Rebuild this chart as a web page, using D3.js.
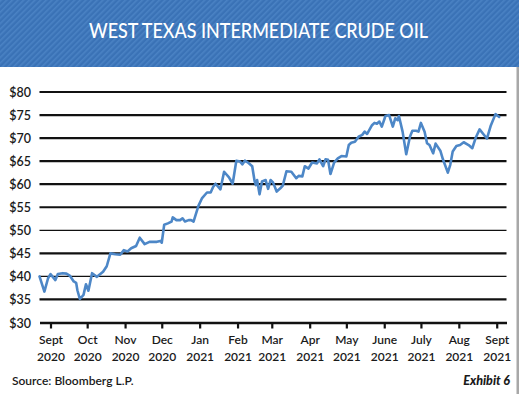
<!DOCTYPE html>
<html><head><meta charset="utf-8">
<script src="https://cdn.jsdelivr.net/npm/d3@7"></script>
<style>
html,body{margin:0;padding:0;background:#fff;}
svg{display:block;}
</style></head>
<body>
<svg id="chart" width="519" height="394"></svg>
<script>
const title = "WEST TEXAS INTERMEDIATE CRUDE OIL";
const sourceText = "Source: Bloomberg L.P.";
const exhibitText = "Exhibit 6";

const dates = [
"2020-08-23","2020-08-27","2020-08-30","2020-09-01","2020-09-05","2020-09-07","2020-09-11","2020-09-14","2020-09-17","2020-09-20",
"2020-09-22","2020-09-23","2020-09-25","2020-09-28","2020-09-30","2020-10-02","2020-10-05","2020-10-09","2020-10-14","2020-10-17",
"2020-10-20","2020-10-24","2020-10-28","2020-10-31","2020-11-03","2020-11-06","2020-11-10","2020-11-13","2020-11-17","2020-11-21",
"2020-11-27","2020-11-30","2020-12-01","2020-12-03","2020-12-06","2020-12-09","2020-12-10","2020-12-13","2020-12-16","2020-12-18",
"2020-12-20","2020-12-23","2020-12-25","2020-12-27","2020-12-31","2021-01-03","2021-01-07","2021-01-10","2021-01-12","2021-01-14",
"2021-01-18","2021-01-21","2021-01-25","2021-01-28","2021-01-31","2021-02-03","2021-02-05","2021-02-07","2021-02-10","2021-02-13",
"2021-02-15","2021-02-16","2021-02-17","2021-02-19","2021-02-21","2021-02-24","2021-02-26","2021-02-28","2021-03-02","2021-03-05",
"2021-03-08","2021-03-10","2021-03-13","2021-03-17","2021-03-21","2021-03-23","2021-03-26","2021-03-28","2021-03-31","2021-04-03",
"2021-04-07","2021-04-09","2021-04-12","2021-04-14","2021-04-16","2021-04-18","2021-04-21","2021-04-24","2021-04-27","2021-05-01",
"2021-05-03","2021-05-05","2021-05-08","2021-05-11","2021-05-14","2021-05-16","2021-05-18","2021-05-22","2021-05-24","2021-05-26",
"2021-05-28","2021-05-30","2021-06-02","2021-06-05","2021-06-08","2021-06-10","2021-06-12","2021-06-13","2021-06-16","2021-06-19",
"2021-06-22","2021-06-24","2021-06-27","2021-06-29","2021-07-01","2021-07-04","2021-07-06","2021-07-08","2021-07-11","2021-07-13",
"2021-07-17","2021-07-19","2021-07-23","2021-07-25","2021-07-27","2021-07-30","2021-08-02","2021-08-05","2021-08-09","2021-08-12",
"2021-08-15","2021-08-18","2021-08-21","2021-08-24","2021-08-27","2021-08-31","2021-09-02","2021-09-03"
];
const prices = [
40.0,36.7,39.6,40.5,39.2,40.5,40.7,40.6,40.1,38.9,
38.6,37.0,35.1,36.0,38.3,36.9,40.7,39.9,41.0,42.2,
45.0,44.8,44.7,45.7,45.4,46.1,46.6,48.4,47.0,47.5,
47.5,47.7,47.3,51.2,51.5,51.9,52.8,52.2,52.2,52.6,
51.9,52.2,52.2,51.9,55.3,57.0,58.2,58.2,59.4,60.1,
58.9,62.7,61.5,60.1,65.1,64.9,64.3,65.1,64.6,63.9,
60.6,59.8,60.9,57.8,60.6,60.9,59.0,60.9,60.4,58.4,
59.1,59.7,62.8,62.7,61.3,61.8,61.7,63.9,63.4,64.7,
64.5,65.4,63.9,65.4,65.3,62.2,64.7,65.6,66.1,66.0,
68.5,69.0,69.2,70.3,70.7,71.4,70.9,72.8,73.3,73.1,
73.6,72.5,74.8,75.0,72.5,74.3,73.9,74.8,71.4,66.5,
70.3,71.6,71.6,71.4,73.3,71.4,68.9,68.5,66.7,68.8,
67.2,65.4,62.5,64.2,67.1,68.3,68.5,69.1,68.5,67.8,
70.2,71.9,70.9,69.9,72.6,75.2,74.8,74.6
];

const yTicks = [30,35,40,45,50,55,60,65,70,75,80];
const monthStarts = ["2020-09-01","2020-10-01","2020-11-01","2020-12-01","2021-01-01","2021-02-01","2021-03-01","2021-04-01","2021-05-01","2021-06-01","2021-07-01","2021-08-01","2021-09-01"];
const monthNames = ["Sept","Oct","Nov","Dec","Jan","Feb","Mar","Apr","May","June","July","Aug","Sept"];
const monthYears = ["2020","2020","2020","2020","2021","2021","2021","2021","2021","2021","2021","2021","2021"];
const xDomain = ["2020-08-23","2021-09-09"];

const parse = d3.timeParse("%Y-%m-%d");
const data = dates.map((d,i)=>({date:parse(d), value:prices[i]}));

const svg = d3.select("#chart");
const FONT = "Lato, 'Open Sans', sans-serif";

// header band with diagonal stripes
const defs = svg.append("defs");
const pat = defs.append("pattern").attr("id","stripes").attr("patternUnits","userSpaceOnUse")
  .attr("width",4).attr("height",4).attr("patternTransform","rotate(45)");
pat.append("rect").attr("width",4).attr("height",4).attr("fill","#3a72b6");
pat.append("rect").attr("width",1.6).attr("height",4).attr("fill","#4a82c4");
svg.append("rect").attr("x",0).attr("y",0).attr("width",519).attr("height",67).attr("fill","url(#stripes)");
svg.append("text").attr("x",258.5).attr("y",38).attr("text-anchor","middle")
  .attr("fill","#fff").attr("font-family",FONT).attr("font-size",22).attr("font-weight",500)
  .attr("textLength",339).attr("lengthAdjust","spacingAndGlyphs").text(title);

// right border
svg.append("rect").attr("x",516.5).attr("y",67).attr("width",2.5).attr("height",327).attr("fill","#a8a8a8");

const x = d3.scaleTime().domain(xDomain.map(parse)).range([39.5,506.5]);
const y = d3.scaleLinear().domain([30,80]).range([322.5,92]);

// gridlines
const thin = new Set([40,50]);
svg.append("g").selectAll("line").data(yTicks.filter(v=>v>30)).join("line")
  .attr("x1",39.5).attr("x2",506.5).attr("y1",d=>y(d)).attr("y2",d=>y(d))
  .attr("stroke","#111").attr("stroke-width",d=>thin.has(d)?1.2:2.2);

// y labels
const yAxis = d3.axisLeft(y).tickValues(yTicks).tickSize(0).tickPadding(0).tickFormat(d=>"$"+d);
const gy = svg.append("g").attr("transform","translate(31,0)").call(yAxis);
gy.select(".domain").remove();
gy.selectAll("text").attr("font-family",FONT).attr("font-size",12.5).attr("font-weight",600).attr("fill","#1a1a1a").attr("dy","0.36em");

// x axis
const xAxis = d3.axisBottom(x).tickValues(monthStarts.map(parse)).tickSize(6).tickSizeOuter(0).tickFormat(()=>"");
const gx = svg.append("g").attr("transform","translate(0,322.5)").call(xAxis);
gx.select(".domain").attr("stroke","#111").attr("stroke-width",2.5);
gx.selectAll(".tick line").attr("stroke","#111").attr("stroke-width",2.2);
gx.selectAll(".tick text").remove();
gx.selectAll(".tick").each(function(d,i){
  const t = d3.select(this).append("text").attr("fill","#1a1a1a").attr("font-family",FONT)
    .attr("font-size",12).attr("font-weight",600).attr("text-anchor","middle");
  t.append("tspan").attr("x",0).attr("y",21.5).text(monthNames[i]);
  t.append("tspan").attr("x",0).attr("y",38.5).text(monthYears[i]);
});

// price line
const line = d3.line().x(d=>x(d.date)).y(d=>y(d.value)).curve(d3.curveLinear);
svg.append("path").datum(data).attr("d",line).attr("fill","none")
  .attr("stroke","#4d87c7").attr("stroke-width",2.6).attr("stroke-linejoin","round").attr("stroke-linecap","round");

// footer
svg.append("text").attr("x",12).attr("y",384.5).attr("font-family",FONT).attr("font-size",12)
  .attr("font-weight",600).attr("fill","#1a1a1a").text(sourceText);
svg.append("text").attr("x",510).attr("y",384.5).attr("text-anchor","end").attr("font-family",FONT)
  .attr("font-size",12.5).attr("font-weight",900).attr("font-style","italic").attr("fill","#1a1a1a").text(exhibitText);
</script>
</body></html>
